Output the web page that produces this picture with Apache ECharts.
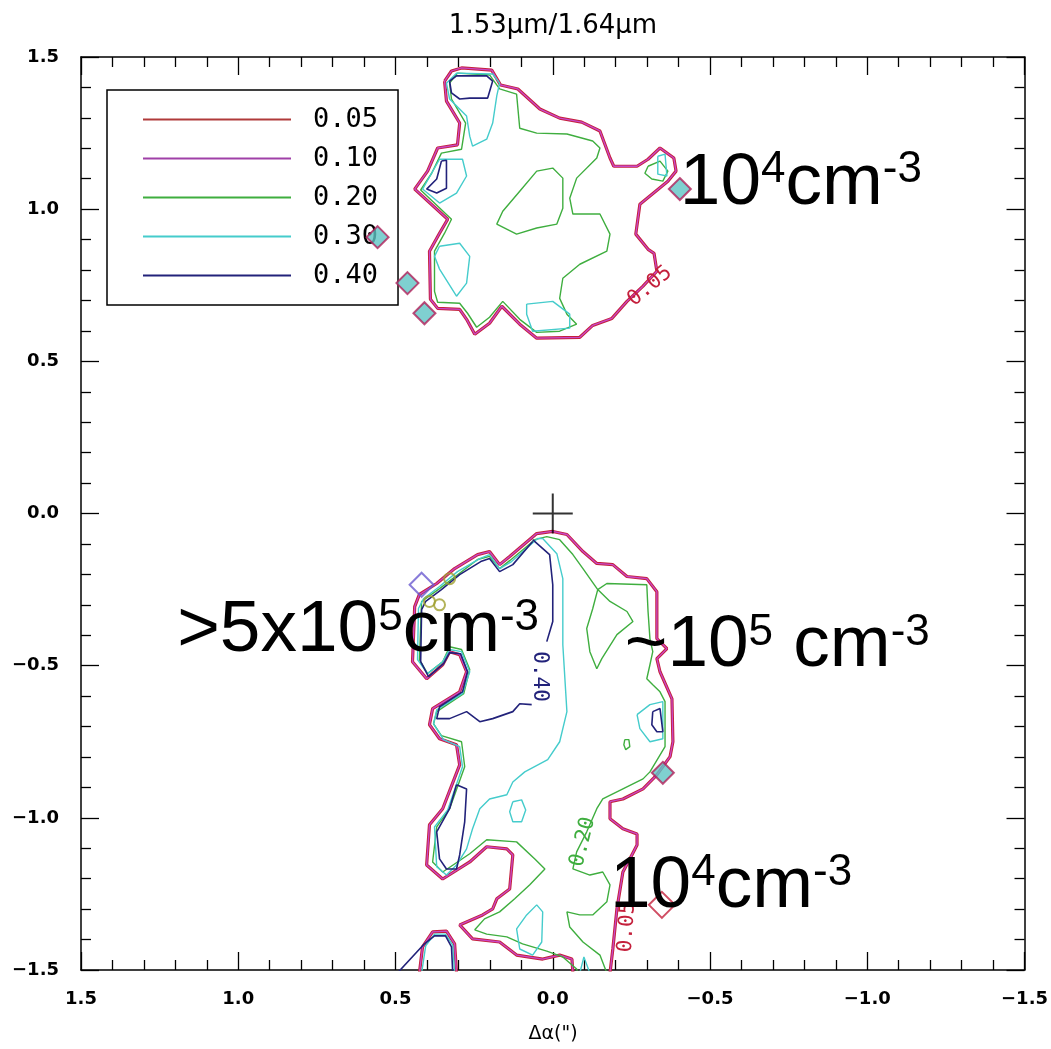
<!DOCTYPE html>
<html><head><meta charset="utf-8">
<script src="https://cdn.jsdelivr.net/npm/echarts@6/dist/echarts.min.js"></script>
<style>html,body{margin:0;padding:0;background:#fff}#c{width:1051px;height:1049px}</style>
</head><body><div id="c"></div>
<script>
// ---------- data (arcsec offsets, x = Δα, y = Δδ) ----------
const levels = ['0.05', '0.10', '0.20', '0.30', '0.40'];
const titleText = '1.53\u03bcm/1.64\u03bcm';
const xName = '\u0394\u03b1(")';

// 0.05 / 0.10 outer boundaries
const upperOuter = [[0.344,1.421],[0.322,1.454],[0.290,1.464],[0.194,1.457],[0.166,1.408],[0.111,1.395],[0.041,1.329],[-0.022,1.299],[-0.092,1.286],[-0.150,1.257],[-0.182,1.168],[-0.194,1.141],[-0.268,1.141],[-0.303,1.164],[-0.341,1.201],[-0.385,1.168],[-0.392,1.125],[-0.366,1.092],[-0.277,1.016],[-0.264,0.918],[-0.303,0.868],[-0.322,0.855],[-0.331,0.796],[-0.287,0.747],[-0.236,0.697],[-0.188,0.641],[-0.127,0.618],[-0.086,0.579],[0.051,0.576],[0.105,0.622],[0.162,0.681],[0.201,0.625],[0.248,0.589],[0.274,0.638],[0.296,0.671],[0.366,0.674],[0.389,0.704],[0.392,0.862],[0.360,0.921],[0.334,0.967],[0.439,1.066],[0.398,1.125],[0.366,1.201],[0.303,1.211],[0.296,1.283],[0.338,1.355],[0.344,1.421]];
const lowerOuter = [[-0.182,-1.51],[-0.191,-1.431],[-0.204,-1.299],[-0.223,-1.178],[-0.245,-1.135],[-0.268,-1.089],[-0.268,-1.053],[-0.223,-1.036],[-0.182,-1.003],[-0.182,-0.947],[-0.223,-0.938],[-0.287,-0.905],[-0.331,-0.859],[-0.373,-0.799],[-0.382,-0.750],[-0.379,-0.609],[-0.341,-0.520],[-0.331,-0.477],[-0.363,-0.444],[-0.331,-0.411],[-0.331,-0.257],[-0.299,-0.214],[-0.236,-0.207],[-0.191,-0.168],[-0.140,-0.164],[-0.096,-0.125],[-0.045,-0.069],[0,-0.059],[0.051,-0.066],[0.137,-0.141],[0.169,-0.168],[0.201,-0.125],[0.239,-0.135],[0.312,-0.181],[0.369,-0.230],[0.424,-0.266],[0.439,-0.306],[0.446,-0.487],[0.401,-0.543],[0.350,-0.497],[0.328,-0.454],[0.296,-0.464],[0.274,-0.520],[0.296,-0.586],[0.382,-0.641],[0.392,-0.694],[0.360,-0.740],[0.306,-0.760],[0.296,-0.826],[0.350,-0.970],[0.392,-1.023],[0.401,-1.155],[0.350,-1.201],[0.264,-1.145],[0.210,-1.095],[0.146,-1.102],[0.127,-1.122],[0.137,-1.234],[0.178,-1.266],[0.191,-1.299],[0.223,-1.319],[0.296,-1.352],[0.255,-1.398],[0.169,-1.408],[0.115,-1.451],[0.032,-1.464],[-0.022,-1.451],[-0.061,-1.464],[-0.064,-1.51]];
const bumpOuter = [[0.424,-1.51],[0.414,-1.424],[0.382,-1.375],[0.338,-1.372],[0.312,-1.414],[0.306,-1.51]];

// 0.20
const upperGreen = [[0.201,1.441],[0.169,1.395],[0.115,1.378],[0.105,1.266],[0.051,1.250],[-0.045,1.247],[-0.127,1.224],[-0.150,1.201],[-0.140,1.168],[-0.076,1.102],[-0.054,1.036],[-0.064,0.984],[-0.150,0.984],[-0.182,0.918],[-0.172,0.862],[-0.086,0.819],[-0.032,0.773],[-0.022,0.707],[-0.045,0.655],[-0.076,0.622],[-0.022,0.599],[0.051,0.595],[0.105,0.638],[0.159,0.697],[0.201,0.645],[0.242,0.612],[0.271,0.658],[0.296,0.691],[0.366,0.694],[0.376,0.730],[0.376,0.862],[0.344,0.921],[0.322,0.967],[0.420,1.063],[0.385,1.118],[0.354,1.184],[0.290,1.197],[0.277,1.283],[0.322,1.362],[0.328,1.414],[0.303,1.447],[0.201,1.441]];
const upperGreenIsland = [[0.105,1.059],[0.051,1.125],[0,1.135],[-0.032,1.102],[-0.032,1.003],[-0.013,0.951],[0.051,0.938],[0.115,0.918],[0.178,0.951],[0.159,0.993],[0.105,1.059]];
const upperGreenRight = [[-0.303,1.141],[-0.341,1.158],[-0.366,1.125],[-0.350,1.092],[-0.315,1.099],[-0.293,1.118],[-0.303,1.141]];
const lowerGreen = [[-0.172,-1.51],[-0.150,-1.451],[-0.096,-1.408],[-0.054,-1.359],[-0.045,-1.309],[-0.086,-1.319],[-0.127,-1.319],[-0.172,-1.276],[-0.182,-1.220],[-0.159,-1.178],[-0.118,-1.188],[-0.064,-1.168],[-0.076,-1.112],[-0.108,-1.046],[-0.140,-0.970],[-0.159,-0.938],[-0.223,-0.905],[-0.287,-0.872],[-0.309,-0.849],[-0.357,-0.766],[-0.357,-0.618],[-0.341,-0.586],[-0.318,-0.563],[-0.299,-0.543],[-0.309,-0.497],[-0.318,-0.454],[-0.309,-0.411],[-0.303,-0.322],[-0.299,-0.234],[-0.172,-0.230],[-0.143,-0.250],[-0.096,-0.181],[-0.064,-0.135],[-0.022,-0.086],[0.019,-0.076],[0.057,-0.086],[0.137,-0.155],[0.169,-0.181],[0.201,-0.141],[0.239,-0.151],[0.360,-0.247],[0.417,-0.289],[0.424,-0.480],[0.398,-0.526],[0.350,-0.487],[0.328,-0.438],[0.290,-0.447],[0.264,-0.513],[0.283,-0.592],[0.369,-0.651],[0.379,-0.691],[0.354,-0.730],[0.290,-0.750],[0.280,-0.832],[0.328,-0.970],[0.369,-1.030],[0.382,-1.145],[0.350,-1.178],[0.264,-1.118],[0.210,-1.072],[0.115,-1.079],[0.057,-1.135],[0.025,-1.168],[0.073,-1.220],[0.121,-1.266],[0.169,-1.309],[0.217,-1.332],[0.248,-1.368],[0.210,-1.382],[0.146,-1.391],[0.096,-1.414],[0.019,-1.438],[-0.032,-1.457],[-0.076,-1.497],[-0.080,-1.51]];
const lowerGreenLoop = [[-0.143,-0.250],[-0.127,-0.313],[-0.108,-0.378],[-0.118,-0.454],[-0.140,-0.510],[-0.156,-0.477],[-0.204,-0.398],[-0.255,-0.355],[-0.236,-0.322],[-0.182,-0.289],[-0.143,-0.250]];
const lowerGreenDot = [[-0.229,-0.743],[-0.242,-0.743],[-0.245,-0.766],[-0.232,-0.776],[-0.226,-0.760],[-0.229,-0.743]];

// 0.30
const upperCyanTop = [[0.338,1.414],[0.328,1.362],[0.274,1.306],[0.264,1.240],[0.255,1.207],[0.210,1.230],[0.191,1.283],[0.178,1.372],[0.169,1.414],[0.191,1.444],[0.306,1.447],[0.338,1.414]];
const upperCyanMid = [[0.360,1.164],[0.287,1.164],[0.274,1.109],[0.306,1.053],[0.360,1.020],[0.414,1.066],[0.360,1.164]];
const upperCyanLow = [[0.360,0.878],[0.296,0.888],[0.264,0.845],[0.274,0.757],[0.306,0.714],[0.360,0.803],[0.376,0.845],[0.360,0.878]];
const upperCyanBottom = [[0.083,0.688],[0,0.697],[-0.054,0.655],[-0.054,0.609],[0.064,0.599],[0.083,0.655],[0.083,0.688]];
const upperCyanRight = [[-0.334,1.174],[-0.357,1.181],[-0.363,1.109],[-0.334,1.115],[-0.334,1.174]];
const lowerCyan = [[0.032,-0.082],[-0.013,-0.132],[-0.032,-0.214],[-0.032,-0.431],[-0.045,-0.651],[-0.022,-0.750],[0.016,-0.809],[0.089,-0.849],[0.127,-0.882],[0.146,-0.924],[0.201,-0.938],[0.232,-0.970],[0.255,-1.036],[0.274,-1.102],[0.306,-1.155],[0.338,-1.188],[0.369,-1.161],[0.376,-1.030],[0.334,-0.974],[0.287,-0.832],[0.296,-0.766],[0.347,-0.743],[0.379,-0.691],[0.369,-0.645],[0.287,-0.592],[0.264,-0.520],[0.290,-0.454],[0.328,-0.447],[0.350,-0.487],[0.398,-0.526],[0.430,-0.480],[0.427,-0.312],[0.411,-0.280],[0.360,-0.240],[0.303,-0.191],[0.232,-0.148],[0.201,-0.135],[0.169,-0.181],[0.131,-0.158],[0.048,-0.082],[0.032,-0.082]];
const lowerCyanSmall = [[0.127,-0.947],[0.099,-0.941],[0.086,-0.974],[0.099,-1.013],[0.127,-1.013],[0.137,-0.980],[0.127,-0.947]];
const lowerCyanRight = [[-0.268,-0.661],[-0.309,-0.628],[-0.350,-0.618],[-0.350,-0.740],[-0.309,-0.750],[-0.277,-0.707],[-0.268,-0.661]];
const lowerCyanBottom = [[0.083,-1.319],[0.051,-1.286],[0.032,-1.309],[0.035,-1.408],[0.064,-1.451],[0.105,-1.431],[0.115,-1.365],[0.083,-1.319]];
const lowerCyanTip = [[-0.086,-1.51],[-0.099,-1.457],[-0.118,-1.51]];
const bumpCyan = [[0.417,-1.51],[0.404,-1.421],[0.376,-1.382],[0.341,-1.382],[0.318,-1.418],[0.312,-1.51]];

// 0.40
const upperBlueTop = [[0.328,1.421],[0.306,1.438],[0.210,1.438],[0.191,1.421],[0.207,1.365],[0.264,1.365],[0.296,1.362],[0.322,1.382],[0.328,1.421]];
const upperBlueMid = [[0.354,1.158],[0.338,1.161],[0.338,1.069],[0.369,1.053],[0.401,1.066],[0.369,1.099],[0.354,1.158]];
const lowerBlueA = [[0.064,-0.086],[0.010,-0.135],[0,-0.234],[0,-0.355],[0.019,-0.421]];
const lowerBlueB = [[0.067,-0.628],[0.105,-0.625],[0.127,-0.651],[0.191,-0.674],[0.232,-0.684],[0.274,-0.651],[0.328,-0.674],[0.369,-0.674],[0.360,-0.635],[0.287,-0.586],[0.271,-0.520],[0.293,-0.461],[0.328,-0.457],[0.347,-0.493],[0.395,-0.536],[0.420,-0.487],[0.417,-0.316],[0.404,-0.289],[0.354,-0.250],[0.296,-0.201],[0.229,-0.158],[0.201,-0.148],[0.169,-0.191],[0.127,-0.168],[0.064,-0.092]];
const lowerBlueLeft = [[0.306,-0.891],[0.274,-0.905],[0.280,-1.013],[0.296,-1.122],[0.306,-1.168],[0.338,-1.168],[0.360,-1.135],[0.369,-1.046],[0.328,-0.970],[0.306,-0.891]];
const lowerBlueRight = [[-0.318,-0.651],[-0.341,-0.641],[-0.350,-0.717],[-0.331,-0.717],[-0.315,-0.694],[-0.318,-0.651]];
const bumpBlue = [[0.494,-1.51],[0.408,-1.414],[0.376,-1.388],[0.341,-1.388],[0.322,-1.424],[0.318,-1.51]];

// isolated single-pixel contours (diamonds) and label blobs
const diamondPts = [[0.557,0.908],[0.462,0.757],[0.408,0.658],[-0.404,1.066],[-0.350,-0.852]];
const redDiamondPts = [[-0.347,-1.286]];
const blueDiamondPts = [[0.417,-0.234]];
const oliveBlobPts = [[0.392,-0.289],[0.328,-0.214],[0.36,-0.30]];
const originPt = [[0, 0]];

// in-line contour labels
const contourLabelText = ['0.05', '0.40', '0.20', '0.05'];
const contourLabelPos = [[-0.309,0.747],[0.041,-0.536],[-0.096,-1.079],[-0.236,-1.359]];
const contourLabelLevel = [0, 4, 2, 0];
const contourLabelAngle = [40, -90, 76, 86];

// density annotations
const annoText = [
  ['10','4','cm','-3'],
  ['>5x10','5','cm','-3'],
  ['~10','5',' cm','-3'],
  ['10','4','cm','-3']
];
const annoPos = [[-0.404,1.082],[1.194,-0.388],[-0.229,-0.437],[-0.182,-1.227]];

// ---------- styling ----------
const levelColor = ['#c4203c', '#c848c8', '#3fae3f', '#45cccc', '#22227a'];
const legendColor = ['#b03a3a', '#a040a8', '#3fae3f', '#45cccc', '#22227a'];
const levelWidth = [3.2, 1.3, 1.4, 1.4, 1.6];
const levelPaths = [
  [upperOuter, lowerOuter, bumpOuter],
  [upperOuter, lowerOuter, bumpOuter],
  [upperGreen, upperGreenIsland, upperGreenRight, lowerGreen, lowerGreenLoop, lowerGreenDot],
  [upperCyanTop, upperCyanMid, upperCyanLow, upperCyanBottom, upperCyanRight, lowerCyan, lowerCyanSmall, lowerCyanRight, lowerCyanBottom, lowerCyanTip, bumpCyan],
  [upperBlueTop, upperBlueMid, lowerBlueA, lowerBlueB, lowerBlueLeft, lowerBlueRight, bumpBlue]
];

const series = [];
levelPaths.forEach((paths, li) => {
  paths.forEach((p, pi) => {
    series.push({
      type: 'line', name: levels[li], data: p, symbol: 'none', showSymbol: false,
      clip: true, smooth: false, silent: true, animation: false,
      z: 2 + li * 0.1,
      color: pi === 0 ? legendColor[li] : levelColor[li],
      lineStyle: { color: levelColor[li], width: levelWidth[li] },
      itemStyle: { color: pi === 0 ? legendColor[li] : levelColor[li] }
    });
  });
});
series.push({
  type: 'scatter', data: diamondPts, symbol: 'diamond', symbolSize: 22, silent: true, z: 6,
  itemStyle: { color: '#5fc4c4', borderColor: '#b0205a', borderWidth: 2 }
});
series.push({
  type: 'scatter', data: redDiamondPts, symbol: 'diamond', symbolSize: 26, silent: true, z: 6,
  itemStyle: { color: 'rgba(0,0,0,0)', borderColor: '#c4203c', borderWidth: 2 }
});
series.push({
  type: 'scatter', data: blueDiamondPts, symbol: 'diamond', symbolSize: 24, silent: true, z: 6,
  itemStyle: { color: 'rgba(0,0,0,0)', borderColor: '#6a5ad0', borderWidth: 2 }
});
series.push({
  type: 'scatter', data: oliveBlobPts, symbol: 'circle', symbolSize: 11, silent: true, z: 6,
  itemStyle: { color: 'rgba(0,0,0,0)', borderColor: '#a0a030', borderWidth: 2 }
});
series.push({
  type: 'scatter', data: originPt, symbol: 'path://M0,20L40,20M20,0L20,40', symbolSize: 40, silent: true, z: 7,
  itemStyle: { color: 'rgba(0,0,0,0)', borderColor: '#000', borderWidth: 2 }
});

const fmt = v => (v < 0 ? '\u2212' : '') + Math.abs(v).toFixed(1);
const axisBase = {
  type: 'value', min: -1.5, max: 1.5, interval: 0.5,
  axisLine: { show: true, onZero: false, lineStyle: { color: '#000', width: 1.5 } },
  axisTick: { show: true, inside: true, length: 18, lineStyle: { color: '#000', width: 1.3 } },
  minorTick: { show: true, splitNumber: 5, length: 10, lineStyle: { color: '#000', width: 1.3 } },
  splitLine: { show: false }, minorSplitLine: { show: false }
};
const labelStyle = { color: '#000', fontFamily: 'DejaVu Sans', fontWeight: 'bold', fontSize: 18, formatter: fmt };

const chart = echarts.init(document.getElementById('c'), null, { renderer: 'canvas' });
chart.setOption({
  animation: false,
  backgroundColor: '#fff',
  grid: { left: 81, right: 26, top: 57, bottom: 79, containLabel: false },
  xAxis: [
    Object.assign({}, axisBase, { position: 'bottom', inverse: true, axisLabel: Object.assign({ margin: 20 }, labelStyle) }),
    Object.assign({}, axisBase, { position: 'top', inverse: true, axisLabel: { show: false } })
  ],
  yAxis: [
    Object.assign({}, axisBase, { position: 'left', axisLabel: Object.assign({ margin: 22 }, labelStyle) }),
    Object.assign({}, axisBase, { position: 'right', axisLabel: { show: false } })
  ],
  legend: {
    data: levels, orient: 'vertical', left: 107, top: 90, icon: 'rect',
    itemWidth: 148, itemHeight: 2, itemGap: 12, padding: [16, 20, 16, 36],
    borderColor: '#000', borderWidth: 1.5, backgroundColor: '#fff', selectedMode: false,
    textStyle: { fontFamily: 'DejaVu Sans Mono', fontSize: 27, color: '#000', lineHeight: 26, padding: [0, 0, 0, 17] }
  },
  series: series
});

const graphics = [];
graphics.push({ type: 'text', x: 553, y: 26, z: 10, style: { text: titleText, fontFamily: 'DejaVu Sans', fontSize: 26, fill: '#000', align: 'center', verticalAlign: 'middle' } });
graphics.push({ type: 'text', x: 553, y: 1034, z: 10, style: { text: xName, fontFamily: 'DejaVu Sans', fontSize: 19, fill: '#000', align: 'center', verticalAlign: 'middle' } });
contourLabelText.forEach((t, i) => {
  const p = chart.convertToPixel({ xAxisIndex: 0, yAxisIndex: 0 }, contourLabelPos[i]);
  graphics.push({ type: 'text', x: p[0], y: p[1], rotation: contourLabelAngle[i] * Math.PI / 180, z: 9,
    style: { text: t, fontFamily: 'DejaVu Sans Mono', fontSize: 21, fill: levelColor[contourLabelLevel[i]], align: 'center', verticalAlign: 'middle' } });
});
annoText.forEach((parts, i) => {
  const p = chart.convertToPixel({ xAxisIndex: 0, yAxisIndex: 0 }, annoPos[i]);
  graphics.push({ type: 'text', x: p[0], y: p[1], z: 20,
    style: {
      text: '{m|' + parts[0] + '}{s|' + parts[1] + '}{m|' + parts[2] + '}{s|' + parts[3] + '}',
      align: 'left', verticalAlign: 'middle',
      rich: {
        m: { fontFamily: 'Liberation Sans', fontSize: 73, fill: '#000', lineHeight: 72, verticalAlign: 'bottom' },
        s: { fontFamily: 'Liberation Sans', fontSize: 44, fill: '#000', lineHeight: 36, verticalAlign: 'top' }
      }
    } });
});
chart.setOption({ graphic: graphics });
</script>
</body></html>
